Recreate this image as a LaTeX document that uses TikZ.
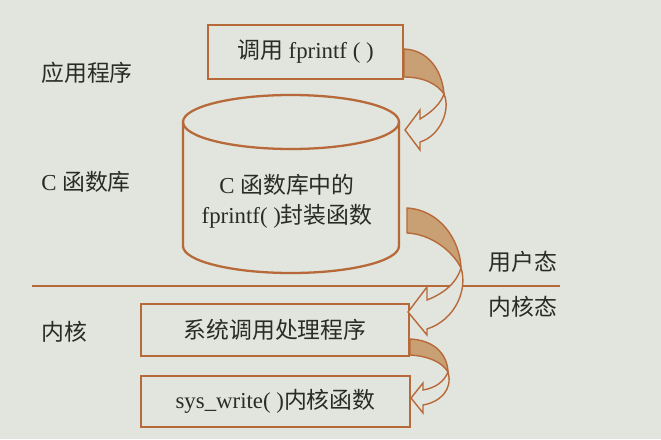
\documentclass[tikz,border=0pt]{standalone}
\usepackage{fontspec}
\setmainfont{Liberation Serif}
\newfontfamily\cjk{Noto Sans CJK SC}
\usetikzlibrary{positioning}

\definecolor{paper}{HTML}{E1E5DD}
\definecolor{rust}{HTML}{B8693A}
\definecolor{tanfill}{HTML}{C9A073}
\definecolor{ink}{HTML}{2A2A26}

\tikzset{
  box/.style={draw=rust, line width=1.3pt, inner sep=0pt, text=ink},
  lbl/.style={text=ink, inner sep=0pt},
  ribbonback/.style={draw=rust, line width=0.8pt, fill=tanfill, line join=round},
  ribbonfront/.style={draw=rust, line width=0.8pt, fill=paper, line join=miter}
}

\begin{document}
\begin{tikzpicture}[x=0.02cm, y=0.02cm, font=\fontsize{13pt}{16pt}\selectfont]

  \fill[paper] (0,0) rectangle (661,-439);
  \useasboundingbox (0,0) rectangle (661,-439);

  % user / kernel divider
  \draw[rust, line width=1pt] (32,-286) -- (560,-286);

  % boxes
  \node[box, minimum width=3.9cm, minimum height=1.08cm] (call) at (305.5,-52)
    {{\cjk 调用} fprintf ( )};
  \node[box, minimum width=5.36cm, minimum height=1.04cm] (handler) at (275,-330)
    {\cjk 系统调用处理程序};
  \node[box, minimum width=5.38cm, minimum height=1.02cm] (kfunc) at (275.5,-401.5)
    {sys\_write( ){\cjk 内核函数}};

  % library cylinder
  \draw[rust, line width=1.3pt] (183,-122) -- (183,-246)
    arc[start angle=180, end angle=360, x radius=108, y radius=27] -- (399,-122);
  \draw[rust, line width=1.3pt] (291,-122) ellipse[x radius=108, y radius=27];
  \node[lbl, align=center] (libtext) at (287,-201)
    {C {\cjk 函数库中的}\\[1pt] fprintf( ){\cjk 封装函数}};

  % layer labels
  \node[lbl, anchor=west] (app) at (41,-73) {\cjk 应用程序};
  \node[lbl, anchor=west] (clib) at (41,-182) {C {\cjk 函数库}};
  \node[lbl, anchor=west] (kern) at (41,-332) {\cjk 内核};
  \node[lbl, anchor=west] (user) at (488,-262) {\cjk 用户态};
  \node[lbl, anchor=west] (kmode) at (488,-307) {\cjk 内核态};

  % twist points of the ribbon arrows
  \coordinate (t1) at (444,-94);
  \coordinate (t2) at (461,-268);
  \coordinate (t3) at (448,-372);

  % call -> library
  \draw[ribbonback] (404,-49) .. controls (428,-50) and (442,-70) .. (t1)
    .. controls (438,-85) and (425,-77) .. (404,-77) -- cycle;
  \draw[ribbonfront] (t1) .. controls (451,-110) and (440,-136) .. (420,-142)
    -- (420,-150) -- (405,-130) -- (420,-110) -- (420,-119)
    .. controls (432,-112) and (441,-103) .. (t1) -- cycle;

  % library -> handler
  \draw[ribbonback] (407,-208) .. controls (440,-210) and (460,-240) .. (t2)
    .. controls (452,-250) and (430,-234) .. (407,-233) -- cycle;
  \draw[ribbonfront] (t2) .. controls (468,-290) and (455,-320) .. (427,-329)
    -- (427,-335) -- (408,-312) -- (427,-287) -- (427,-300)
    .. controls (445,-293) and (457,-282) .. (t2) -- cycle;

  % handler -> kernel function
  \draw[ribbonback] (410,-339) .. controls (432,-340) and (447,-352) .. (t3)
    .. controls (442,-362) and (428,-356) .. (410,-355) -- cycle;
  \draw[ribbonfront] (t3) .. controls (453,-390) and (440,-402) .. (423,-405)
    -- (423,-413) -- (411,-398) -- (423,-383) -- (423,-390)
    .. controls (435,-388) and (444,-382) .. (t3) -- cycle;

\end{tikzpicture}
\end{document}
